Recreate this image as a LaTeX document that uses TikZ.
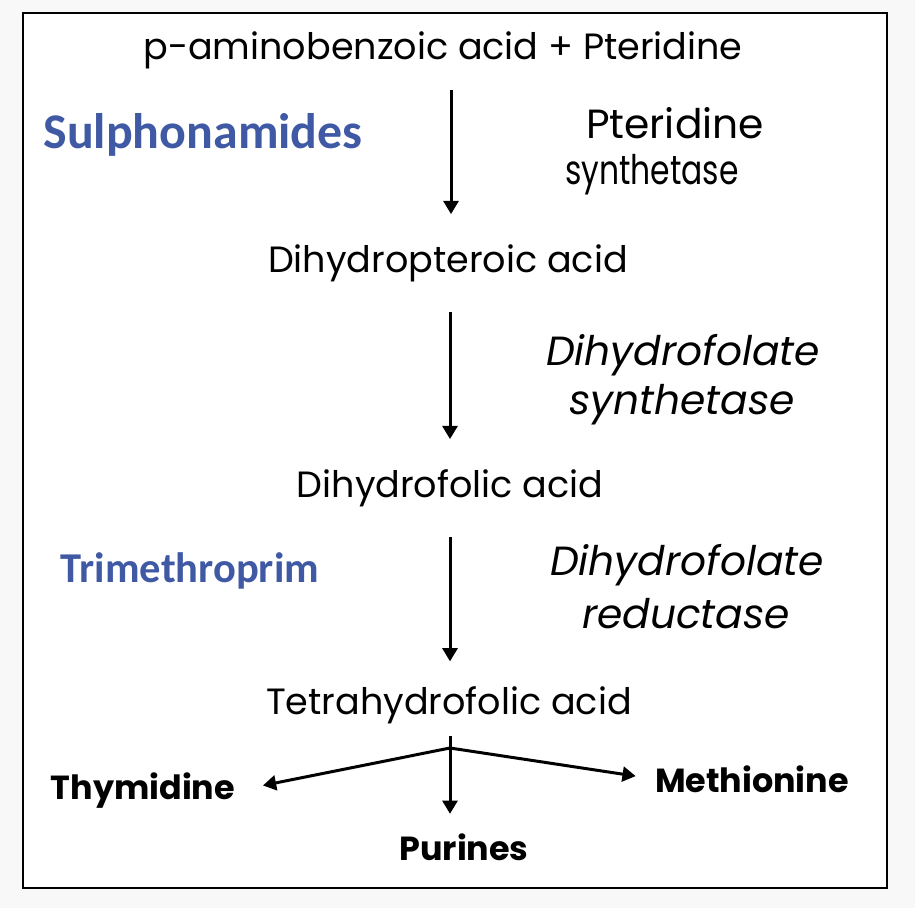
\documentclass[tikz,border=0pt]{standalone}
\usepackage{fontspec}
\setmainfont{Poppins}
\newfontfamily\calfont{Carlito}
\usetikzlibrary{arrows.meta}
\definecolor{drugblue}{RGB}{63,89,165}
\definecolor{pagegray}{RGB}{248,248,248}
\tikzset{
  lbl/.style={inner sep=0pt,font=\fontsize{20.8}{24}\selectfont},
  enz/.style={inner sep=0pt,font=\fontsize{23.2}{26}\selectfont\itshape},
  drug/.style={inner sep=0pt,text=drugblue},
  prod/.style={inner sep=0pt,font=\fontsize{19}{22}\selectfont\bfseries},
  arr/.style={line width=1.7pt,-{Triangle[length=7.5pt,width=8.5pt]}}
}
\begin{document}
\begin{tikzpicture}[x=0.02cm,y=-0.02cm]
\useasboundingbox (0,0) rectangle (915,908);
\fill[pagegray] (0,0) rectangle (915,908);
\draw[line width=1.2pt,fill=white] (23,13) rectangle (887,888);
% pathway
\node[lbl] (pab) at (443,50) {p-aminobenzoic acid + Pteridine};
\node[lbl] (dhp) at (448,263) {Dihydropteroic acid};
\node[lbl] (dhf) at (450,488) {Dihydrofolic acid};
\node[lbl] (thf) at (449,705) {Tetrahydrofolic acid};
% enzymes
\node[inner sep=0pt,font=\fontsize{23.2}{26}\selectfont] (ps1) at (675,123) {Pteridine};
\node[inner sep=0pt,font=\fontsize{23.2}{26}\selectfont] (ps2) at (652,175) {\scalebox{0.77}[1]{synthetase}};
\node[enz] (dfs1) at (683,355) {Dihydrofolate};
\node[enz] (dfs2) at (682,405) {synthetase};
\node[enz] (dfr1) at (687,565) {Dihydrofolate};
\node[enz] (dfr2) at (686,614) {reductase};
% drugs
\node[drug,font=\calfont\bfseries\fontsize{28.4}{32}\selectfont] (sul) at (203,135) {Sulphonamides};
\node[drug,font=\calfont\bfseries\fontsize{24.2}{28}\selectfont] (tmp) at (190,571) {Trimethroprim};
% products
\node[prod] (thy) at (143,791) {Thymidine};
\node[prod] (met) at (752,779) {Methionine};
\node[prod] (pur) at (464,847) {Purines};
\coordinate (fork) at (450,748);
% arrows
\draw[arr,shorten <=12pt,shorten >=17pt] (pab.south -| 451,0) -- (dhp.north -| 451,0);
\draw[arr,shorten <=17pt,shorten >=17pt] (dhp.south -| 450,0) -- (dhf.north -| 450,0);
\draw[arr,shorten <=17pt,shorten >=14pt] (dhf.south -| 450,0) -- (thf.north -| 450,0);
\draw[line width=1.7pt,shorten <=7pt] (thf.south -| fork) -- (fork);
\draw[arr,shorten >=16pt] (fork) -- (thy.east);
\draw[arr,shorten >=11pt] (fork) -- (met.west);
\draw[arr,shorten >=11pt] (fork) -- (pur.north -| fork);
\end{tikzpicture}
\end{document}
